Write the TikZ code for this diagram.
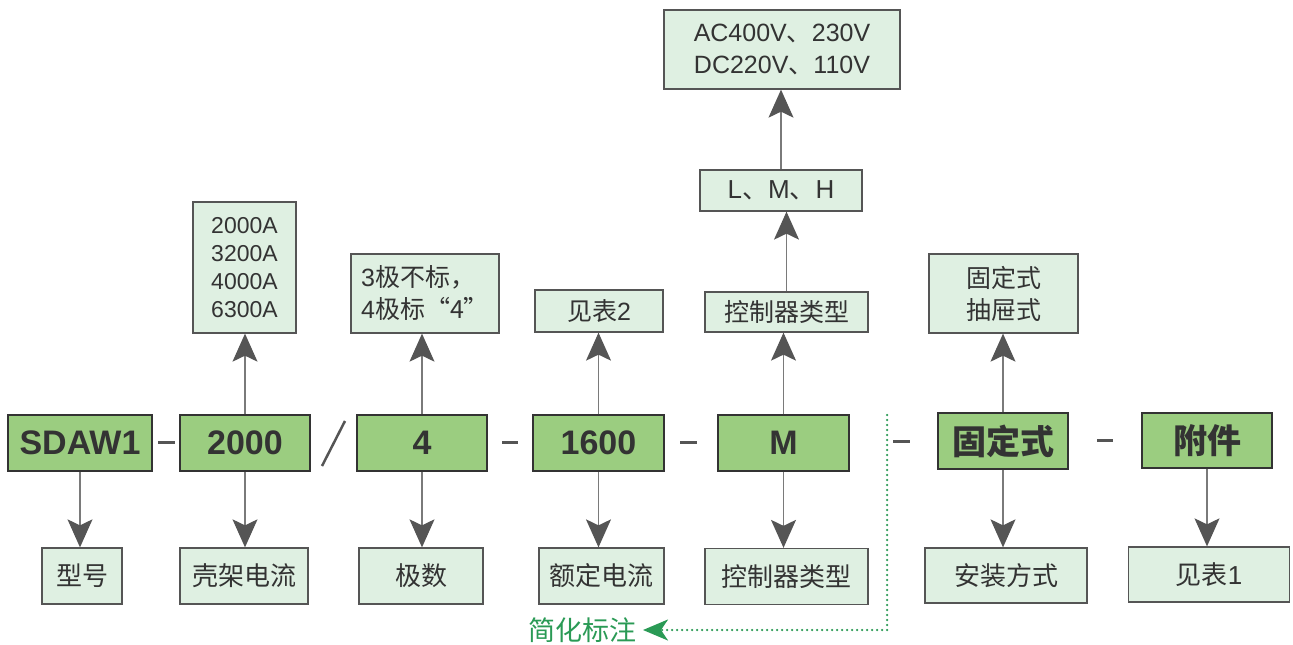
\documentclass[tikz,border=0pt]{standalone}
\usepackage{fontspec}
\setmainfont{Liberation Sans}
\newfontfamily\cjk{Noto Sans CJK SC}
\usetikzlibrary{arrows.meta}
\definecolor{boxgreen}{HTML}{9BCD80}
\definecolor{palegreen}{HTML}{DFF0E2}
\definecolor{linegray}{HTML}{7A7A7A}
\definecolor{tipgray}{HTML}{555555}
\definecolor{notegreen}{HTML}{2A9A55}
\definecolor{txt}{HTML}{333333}
\tikzset{
  mainbox/.style = {draw=txt, line width=1.5pt, fill=boxgreen, text=txt, inner sep=0,
    minimum width=130pt, minimum height=56pt, font=\fontsize{34}{40}\selectfont\bfseries},
  lblbox/.style = {draw=tipgray, line width=1.3pt, fill=palegreen, text=txt, inner sep=0,
    align=center, minimum height=56pt, font=\fontsize{26}{32}\selectfont\cjk},
  link/.style = {draw=linegray, line width=1.3pt,
    -{Stealth[length=28pt, width=25pt, inset=6pt, color=tipgray]}},
  sep/.style = {draw=tipgray, line width=3pt}
}
\begin{document}
\begin{tikzpicture}[x=1pt, y=-1pt]
    \useasboundingbox (0,0) rectangle (1293,645);

    % code boxes
    \node [mainbox, minimum width=144pt] (sdaw) at (80,443) {SDAW1};
    \node [mainbox] (frame) at (245,443) {2000};
    \node [mainbox] (pole) at (422,443) {4};
    \node [mainbox, minimum width=131pt] (rated) at (598.5,443) {1600};
    \node [mainbox, minimum width=131pt] (ctrl) at (783.5,443) {M};
    \node [mainbox] (mount) at (1003,441) {\cjk 固定式};
    \node [mainbox, minimum height=55pt] (acc) at (1207,440.5) {\cjk 附件};

    % separators
    \draw [sep] (158,442) -- (175,442);
    \draw [sep, line width=2.5pt] (322,466) -- (345,421);
    \draw [sep] (502,442) -- (518,442);
    \draw [sep] (680,442) -- (697,442);
    \draw [sep] (893,441) -- (910,441);
    \draw [sep] (1097,440) -- (1113,440);

    % meaning of each field
    \node [lblbox, minimum width=80pt] (typelbl) at (82,576) {型号};
    \node [lblbox, minimum width=128pt] (framelbl) at (244,576) {壳架电流};
    \node [lblbox, minimum width=124pt] (polelbl) at (421,576) {极数};
    \node [lblbox, minimum width=125pt] (ratedlbl) at (601.5,576) {额定电流};
    \node [lblbox, minimum width=163pt] (ctrllbl) at (786.5,576.5) {控制器类型};
    \node [lblbox, minimum width=162pt, minimum height=55pt] (mountlbl) at (1006,575.5) {安装方式};
    \node [lblbox, minimum width=161pt, minimum height=55pt] (acclbl) at (1209,574.5) {见表{\fontspec{Liberation Sans}1}};

    % options
    \node [lblbox, minimum width=103pt, minimum height=131pt,
      font=\fontsize{23}{28}\selectfont] (frametop) at (244.5,267.5) {2000A\\3200A\\4000A\\6300A};
    \node [lblbox, minimum width=148pt, minimum height=79pt, align=left,
      font=\fontsize{25}{32}\selectfont] (poletop) at (425,293.5) {3{\cjk 极不标，}\\4{\cjk 极标“4”}};
    \node [lblbox, minimum width=128pt, minimum height=42pt,
      font=\fontsize{25}{28}\selectfont] (ratedtop) at (599,311) {{\cjk 见表}2};
    \node [lblbox, minimum width=163pt, minimum height=40pt,
      font=\fontsize{25}{28}\selectfont\cjk] (ctrltop) at (786.5,312) {控制器类型};
    \node [lblbox, minimum width=162pt, minimum height=41pt,
      font=\fontsize{26}{28}\selectfont] (lmh) at (781,190.5) {L{\cjk 、}M{\cjk 、}H};
    \node [lblbox, minimum width=236pt, minimum height=79pt,
      font=\fontsize{25}{32}\selectfont] (volt) at (782,49.5) {AC400V{\cjk 、}230V\\DC220V{\cjk 、}110V};
    \node [lblbox, minimum width=149pt, minimum height=79pt,
      font=\fontsize{25}{32}\selectfont\cjk] (mounttop) at (1003.5,293.5) {固定式\\抽屉式};

    % arrows
    \foreach \a/\b in {sdaw/typelbl, frame/framelbl, pole/polelbl, rated/ratedlbl,
                       ctrl/ctrllbl, mount/mountlbl, acc/acclbl}
      \draw [link] (\a.south) -- (\a.south |- \b.north);
    \foreach \a/\b in {frame/frametop, pole/poletop, rated/ratedtop, ctrl/ctrltop,
                       ctrltop/lmh, lmh/volt, mount/mounttop}
      \draw [link] (\a.north) -- (\a.north |- \b.south);

    % short form
    \coordinate (hint) at (887,415);
    \node [anchor=east, inner sep=6pt, text=notegreen,
      font=\fontsize{27}{30}\selectfont\cjk] (note) at (643,630) {简化标注};
    \draw [notegreen, line width=2.5pt, line cap=round, dash pattern=on 0pt off 5pt,
      -{Stealth[length=25pt, width=21pt, inset=7pt, line cap=butt]}] (hint) |- (note.east);
  \end{tikzpicture}
\end{document}
